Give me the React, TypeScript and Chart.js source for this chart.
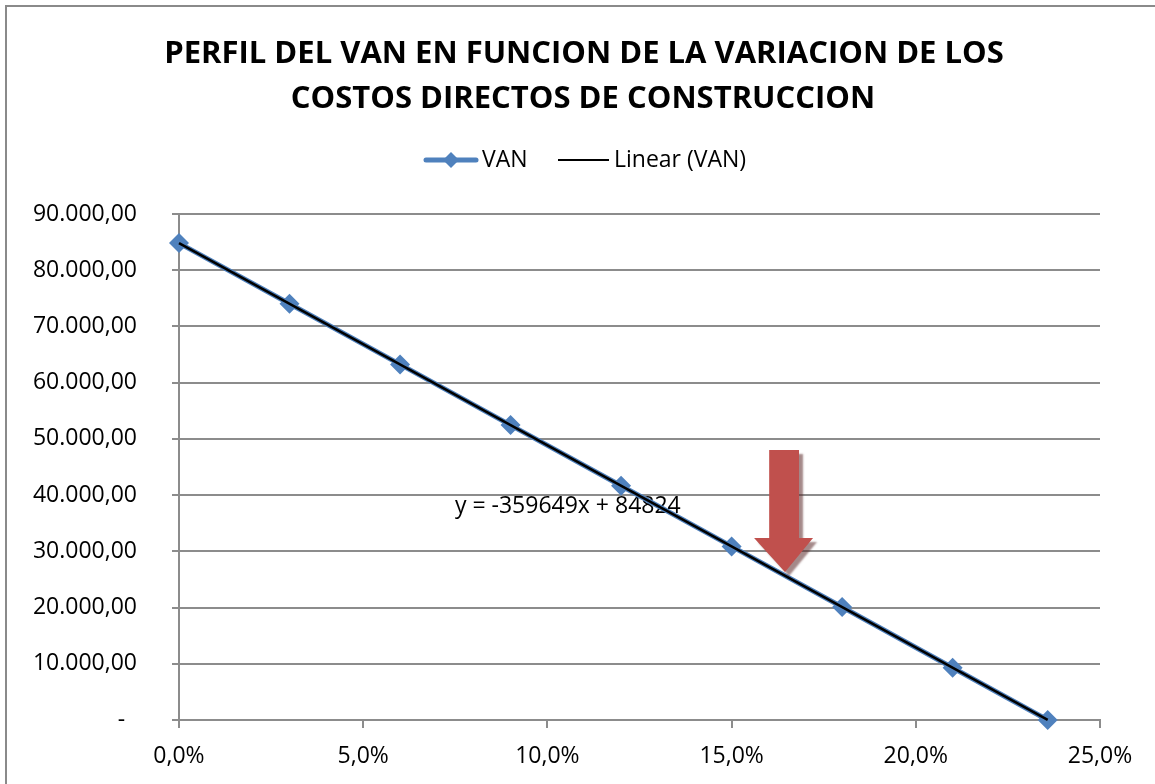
import { useEffect, useRef } from 'react';
import { Chart, registerables } from 'chart.js';

Chart.register(...registerables);

const TITLE_LINES = [
  'PERFIL DEL VAN EN FUNCION DE LA VARIACION DE LOS',
  'COSTOS DIRECTOS DE CONSTRUCCION',
];
const SERIES_NAME = 'VAN';
const TREND_NAME = 'Linear (VAN)';

// x: variation of direct construction costs (fraction), y: VAN
const VARIATION = [0, 0.03, 0.06, 0.09, 0.12, 0.15, 0.18, 0.21, 0.2358];
const VAN = [84824, 74035, 63245, 52456, 41666, 30877, 20087, 9298, 0];

// linear trendline endpoints
const TREND_X = [0, 0.2358];
const TREND_Y = [84824, 20];
const TREND_LABEL = 'y = -359649x + 84824';
const TREND_LABEL_X = 0.0749;
const TREND_LABEL_Y = 38060;

// arrow annotation (data coordinates)
const ARROW_SHAFT_X = [0.1602, 0.1683];
const ARROW_HEAD_X = [0.1561, 0.1721];
const ARROW_TIP_X = 0.1645;
const ARROW_Y = [48020, 32370, 26320]; // top, head base, tip

const X_MIN = 0;
const X_MAX = 0.25;
const X_STEP = 0.05;
const Y_MIN = 0;
const Y_MAX = 90000;
const Y_STEP = 10000;

const FONT = "'Open Sans', 'DejaVu Sans', sans-serif";
const BLUE = '#4F81BD';
const GRID = '#8c8c8c';
const RED = '#C0504D';

function fmtY(v: number): string {
  if (v === 0) return '-  ';
  const s = v.toFixed(2);
  const [i, d] = s.split('.');
  const withDots = i.replace(/\B(?=(\d{3})+(?!\d))/g, '.');
  return withDots + ',' + d;
}

function fmtX(v: number): string {
  return (v * 100).toFixed(1).replace('.', ',') + '%';
}

const decorPlugin = {
  id: 'decor',
  beforeDraw(chart: any) {
    const ctx = chart.ctx;
    ctx.save();
    ctx.fillStyle = '#ffffff';
    ctx.fillRect(0, 0, chart.width, chart.height);
    ctx.strokeStyle = '#8a8a8a';
    ctx.lineWidth = 2;
    ctx.strokeRect(6, 6, chart.width + 20, chart.height + 20);

    // title
    ctx.fillStyle = '#000';
    ctx.font = `bold 31px ${FONT}`;
    ctx.textAlign = 'center';
    ctx.textBaseline = 'alphabetic';
    ctx.fillText(TITLE_LINES[0], 584, 63);
    ctx.fillText(TITLE_LINES[1], 583, 108);

    // legend
    const ly = 160;
    ctx.lineCap = 'round';
    ctx.strokeStyle = BLUE;
    ctx.lineWidth = 5;
    ctx.beginPath();
    ctx.moveTo(426, ly);
    ctx.lineTo(476, ly);
    ctx.stroke();
    ctx.fillStyle = BLUE;
    ctx.beginPath();
    ctx.moveTo(443, ly);
    ctx.lineTo(451, ly - 8);
    ctx.lineTo(459, ly);
    ctx.lineTo(451, ly + 8);
    ctx.closePath();
    ctx.fill();
    ctx.lineCap = 'butt';
    ctx.strokeStyle = '#000';
    ctx.lineWidth = 2;
    ctx.beginPath();
    ctx.moveTo(558, ly);
    ctx.lineTo(609, ly);
    ctx.stroke();
    ctx.fillStyle = '#000';
    ctx.font = `23px ${FONT}`;
    ctx.textAlign = 'left';
    ctx.textBaseline = 'middle';
    ctx.fillText(SERIES_NAME, 482, ly);
    ctx.fillText(TREND_NAME, 614, ly);
    ctx.restore();
  },
  beforeDatasetsDraw(chart: any) {
    const ctx = chart.ctx;
    const xs = chart.scales.x;
    const ys = chart.scales.y;
    ctx.save();
    ctx.fillStyle = '#000';
    ctx.font = `23px ${FONT}`;
    ctx.textAlign = 'left';
    ctx.textBaseline = 'middle';
    ctx.fillText(TREND_LABEL, xs.getPixelForValue(TREND_LABEL_X), ys.getPixelForValue(TREND_LABEL_Y));
    ctx.restore();
  },
  afterDatasetsDraw(chart: any) {
    const ctx = chart.ctx;
    const xs = chart.scales.x;
    const ys = chart.scales.y;
    const sx0 = xs.getPixelForValue(ARROW_SHAFT_X[0]);
    const sx1 = xs.getPixelForValue(ARROW_SHAFT_X[1]);
    const hx0 = xs.getPixelForValue(ARROW_HEAD_X[0]);
    const hx1 = xs.getPixelForValue(ARROW_HEAD_X[1]);
    const tx = xs.getPixelForValue(ARROW_TIP_X);
    const yTop = ys.getPixelForValue(ARROW_Y[0]);
    const yBase = ys.getPixelForValue(ARROW_Y[1]);
    const yTip = ys.getPixelForValue(ARROW_Y[2]);
    ctx.save();
    ctx.shadowColor = 'rgba(90, 40, 40, 0.55)';
    ctx.shadowOffsetX = 4;
    ctx.shadowOffsetY = 4;
    ctx.shadowBlur = 2;
    ctx.fillStyle = RED;
    ctx.beginPath();
    ctx.moveTo(sx0, yTop);
    ctx.lineTo(sx1, yTop);
    ctx.lineTo(sx1, yBase);
    ctx.lineTo(hx1, yBase);
    ctx.lineTo(tx, yTip);
    ctx.lineTo(hx0, yBase);
    ctx.lineTo(sx0, yBase);
    ctx.closePath();
    ctx.fill();
    ctx.restore();
  },
};

export default function App() {
  const ref = useRef<HTMLCanvasElement>(null);
  useEffect(() => {
    document.body.style.margin = '0';
    const chart = new Chart(ref.current as HTMLCanvasElement, {
      type: 'scatter',
      data: {
        datasets: [
          {
            label: TREND_NAME,
            data: TREND_X.map((x, i) => ({ x, y: TREND_Y[i] })),
            showLine: true,
            borderColor: '#000',
            borderWidth: 2.5,
            pointRadius: 0,
            order: 0,
            clip: false as any,
          },
          {
            label: SERIES_NAME,
            data: VARIATION.map((x, i) => ({ x, y: VAN[i] })),
            showLine: true,
            borderColor: BLUE,
            borderWidth: 5,
            pointStyle: 'rectRot',
            pointRadius: 10,
            pointBackgroundColor: BLUE,
            pointBorderColor: BLUE,
            pointBorderWidth: 0,
            order: 1,
            clip: false as any,
          },
        ],
      },
      options: {
        responsive: false,
        animation: false,
        events: [],
        layout: { padding: { top: 214, right: 55, bottom: 0, left: 0 } },
        plugins: {
          legend: { display: false },
          title: { display: false },
          tooltip: { enabled: false },
        },
        scales: {
          x: {
            type: 'linear',
            min: X_MIN,
            max: X_MAX,
            ticks: {
              stepSize: X_STEP,
              callback: (v: any) => fmtX(Number(v)),
              font: { family: FONT, size: 23 },
              color: '#000',
              padding: 15,
              maxRotation: 0,
            },
            grid: {
              drawOnChartArea: false,
              drawTicks: true,
              tickLength: 8,
              color: GRID,
              lineWidth: 2,
            },
            border: { display: true, color: GRID, width: 2 },
            afterFit: (s: any) => {
              s.paddingLeft = 0;
              s.paddingRight = 0;
              s.height = 64;
            },
          },
          y: {
            type: 'linear',
            min: Y_MIN,
            max: Y_MAX,
            ticks: {
              stepSize: Y_STEP,
              callback: (v: any) => fmtY(Number(v)),
              font: { family: FONT, size: 23 },
              color: '#000',
              padding: 35,
            },
            grid: {
              color: GRID,
              lineWidth: 2,
              tickLength: 7,
            },
            border: { display: true, color: GRID, width: 2 },
            afterFit: (s: any) => {
              s.width = 179;
              s.paddingTop = 0;
              s.paddingBottom = 0;
            },
          },
        },
      },
      plugins: [decorPlugin],
    });
    return () => chart.destroy();
  }, []);
  return <canvas ref={ref} width={1155} height={784} style={{ display: 'block' }} />;
}
